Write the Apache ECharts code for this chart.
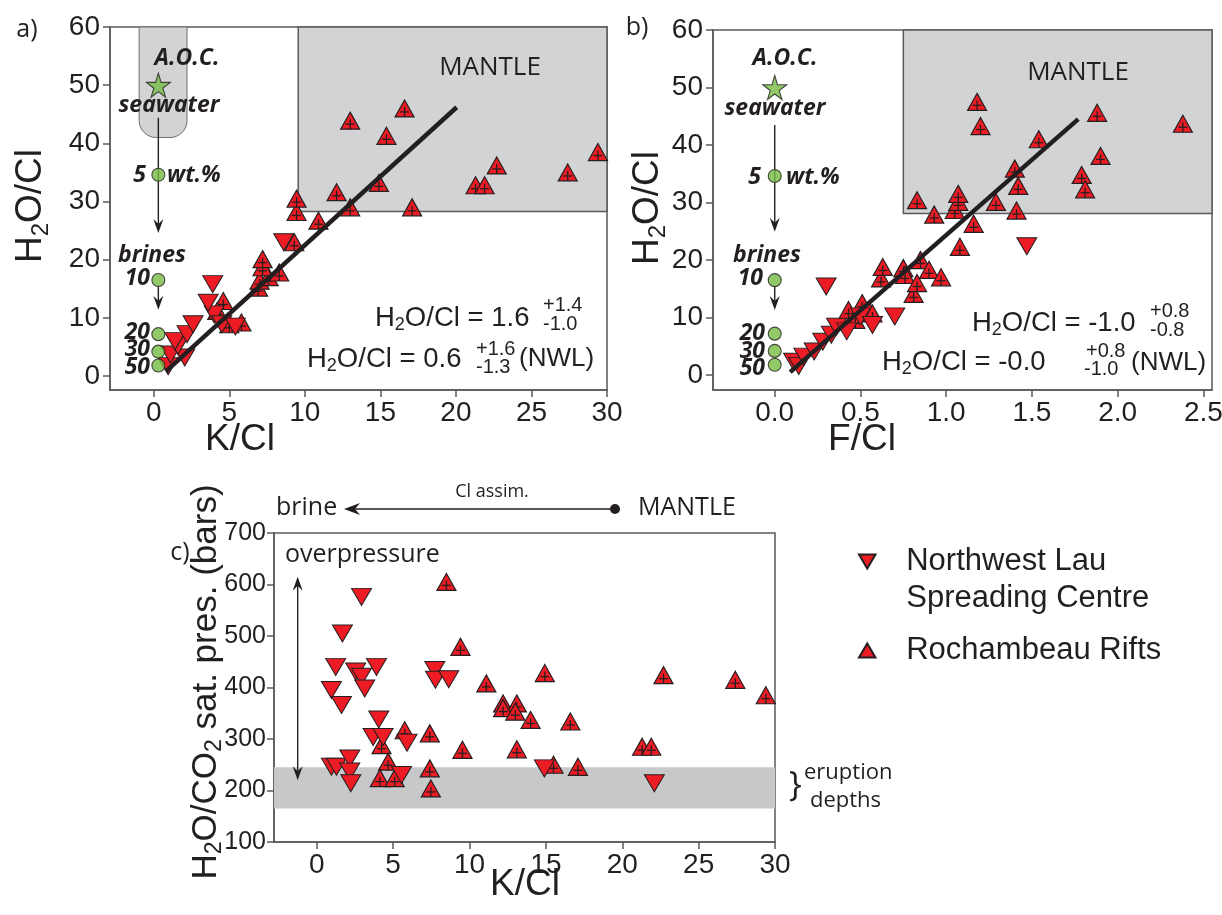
<!DOCTYPE html>
<html><head><meta charset="utf-8">
<script src="https://cdn.jsdelivr.net/npm/echarts@6/dist/echarts.min.js"></script>
<style>html,body{margin:0;padding:0;background:#fff}#c{width:1222px;height:915px}</style>
</head><body><div id="c"></div>
<script>
// ---------- data ----------
const ticksK = [0, 5, 10, 15, 20, 25, 30];
const ticksH = [0, 10, 20, 30, 40, 50, 60];
const ticksF = [0, 0.5, 1, 1.5, 2, 2.5];
const ticksP = [100, 200, 300, 400, 500, 600, 700];

// panel a: K/Cl vs H2O/Cl
const nwlA = [[0.95,1.7],[1.1,3.7],[2.05,3.2],[1.6,5.2],[1.4,6.0],[2.2,7.2],[2.6,8.9],[4.0,10.6],[4.5,8.9],[3.6,12.6],[3.9,15.8],[5.4,8.5],[8.6,23.0]];
const rochA = [[4.6,12.9],[4.2,11.2],[5.0,8.9],[5.8,9.2],[6.9,15.2],[7.0,16.4],[7.6,17.0],[7.2,18.7],[7.2,20.1],[8.3,17.8],[9.3,23.0],[9.45,28.2],[9.45,30.5],[10.9,26.7],[12.1,31.6],[13.0,29.0],[13.0,43.9],[14.9,33.2],[15.4,41.3],[16.6,46.0],[17.1,29.0],[21.3,32.8],[21.9,32.8],[22.7,36.2],[27.4,35.0],[29.4,38.5]];
const fitA = [[0.8,0.8],[20.05,46.2]];
const seawaterA = [[0.3,50]];
const brineA = [[0.3,34.6],[0.3,16.5],[0.3,7.2],[0.3,4.2],[0.3,1.8]];
const arrowsA = [[0.3,44.4,24.6,0],[0.3,15.5,11.4,0]];
const capsuleA = [[-0.97,2.2,41,60]];
const mantleA = [[9.56,28.3],[30,60]];

// panel b: F/Cl vs H2O/Cl
const nwlB = [[0.11,2.3],[0.14,1.6],[0.17,3.2],[0.23,4.1],[0.28,5.8],[0.33,7.0],[0.36,8.4],[0.42,7.6],[0.30,15.4],[0.50,10.2],[0.57,8.7],[0.70,10.2],[1.47,22.4]];
const rochB = [[0.43,11.3],[0.51,12.5],[0.55,11.3],[0.57,10.7],[0.47,9.6],[0.62,16.8],[0.63,18.8],[0.75,18.6],[0.76,17.4],[0.81,14.1],[0.83,16.0],[0.85,20.0],[0.90,18.3],[0.97,17.0],[1.08,22.3],[1.16,26.3],[0.83,30.4],[0.93,27.9],[1.05,28.7],[1.07,30.1],[1.07,31.5],[1.29,30.1],[1.41,28.6],[1.42,32.9],[1.40,35.9],[1.54,41.0],[1.18,47.5],[1.20,43.3],[1.79,34.8],[1.81,32.3],[1.90,38.1],[1.88,45.6],[2.38,43.7]];
const fitB = [[0.09,0.5],[1.77,44.5]];
const seawaterB = [[0,50]];
const brineB = [[0,34.6],[0,16.5],[0,7.2],[0,4.2],[0,1.8]];
const arrowsB = [[0,43.5,24.9,0],[0,15.4,11.3,0]];
const mantleB = [[0.75,28.1],[2.55,60]];

// panel c: K/Cl vs H2O/CO2 saturation pressure (bars)
const nwlC = [[2.93,576],[1.68,505],[1.24,440],[2.55,431],[2.93,421],[3.91,440],[3.14,398],[0.96,395],[1.62,366],[7.73,434],[7.77,415],[8.64,416],[4.06,338],[3.69,304],[4.34,304],[5.91,293],[0.96,246],[1.29,246],[2.16,262],[2.16,237],[2.23,214],[5.55,230],[14.9,243],[22.1,214]];
const rochC = [[8.49,605],[9.41,479],[11.1,408],[14.93,428],[22.7,424],[27.4,415],[29.4,385],[12.2,369],[13.1,369],[12.2,360],[13.0,353],[14.0,337],[16.6,334],[5.76,317],[7.4,311],[4.24,288],[9.54,279],[13.1,280],[21.3,285],[21.9,285],[4.67,256],[7.4,243],[15.5,250],[17.1,246],[4.13,224],[5.1,224],[7.47,204]];
const eruptionBand = [165, 245];
const arrowsC = [[-1.25,220,615,1]];

// ---------- style ----------
const RED = '#ed1c24', INK = '#231f20', AX = '#58595b', GRAY = '#d1d3d4', GREEN = '#76bc43';
const FA = '"Liberation Sans", Arial, sans-serif';
const FM = '"Open Sans", "Noto Sans", sans-serif';
const NWL = 'Northwest Lau Spreading Centre', ROCH = 'Rochambeau Rifts';
const DOWN = 'path://M0,0L20,0L10,17Z', UP = 'path://M10,0L20,17L0,17Z';
const STAR = 'path://M50,0L61,35L98,35L68,57L79,91L50,70L21,91L32,57L2,35L39,35Z';

function xAx(g, min, max, ticks, fmt) {
  return {type:'value', gridIndex:g, min, max, splitLine:{show:false},
    axisLine:{show:true, onZero:false, lineStyle:{color:AX, width:1.5}},
    axisTick:{show:true, length:7, customValues:ticks, lineStyle:{color:AX, width:1.5}},
    axisLabel:{customValues:ticks, fontSize:28, fontFamily:FA, color:INK, margin:9, formatter:fmt}};
}
function yAx(g, min, max, ticks, size, margin) {
  return {type:'value', gridIndex:g, min, max, splitLine:{show:false},
    axisLine:{show:true, onZero:false, lineStyle:{color:AX, width:1.5}},
    axisTick:{show:true, length:7, customValues:ticks, lineStyle:{color:AX, width:1.5}},
    axisLabel:{customValues:ticks, fontSize:size || 28, fontFamily:FA, color:INK, margin:margin || 10}};
}
function rochItem(params, api) {
  const p = api.coord([api.value(0), api.value(1)]);
  const w = 9.5, h = 8.5;
  return {type:'group', children:[
    {type:'polygon', shape:{points:[[p[0],p[1]-h],[p[0]+w,p[1]+h],[p[0]-w,p[1]+h]]}, style:{fill:RED, stroke:INK, lineWidth:1.2}},
    {type:'line', shape:{x1:p[0], y1:p[1]-1.5, x2:p[0], y2:p[1]+h}, style:{stroke:INK, lineWidth:1.3}},
    {type:'line', shape:{x1:p[0]-4.5, y1:p[1]+3.5, x2:p[0]+4.5, y2:p[1]+3.5}, style:{stroke:INK, lineWidth:1.3}}
  ]};
}
function arrowItem(params, api) {
  const x = api.value(0), both = api.value(3);
  const a = api.coord([x, api.value(1)]), b = api.coord([x, api.value(2)]);
  const dir = b[1] > a[1] ? 1 : -1;
  const head = (t, d) => ({type:'polygon', shape:{points:[[t[0],t[1]],[t[0]-5,t[1]-d*14],[t[0],t[1]-d*9],[t[0]+5,t[1]-d*14]]}, style:{fill:INK}});
  const line = {type:'line', shape:{x1:a[0], y1:both ? a[1]+dir*8 : a[1], x2:b[0], y2:b[1]-dir*8}, style:{stroke:INK, lineWidth:1.4}};
  const ch = [line, head(b, dir)];
  if (both) ch.push(head(a, -dir));
  return {type:'group', children:ch};
}
function capsuleItem(params, api) {
  const p0 = api.coord([api.value(0), api.value(3)]), p1 = api.coord([api.value(1), api.value(2)]);
  return {type:'rect', shape:{x:p0[0], y:p0[1], width:p1[0]-p0[0], height:p1[1]-p0[1], r:[0,0,17,17]}, style:{fill:GRAY, stroke:'#6d6e71', lineWidth:1}};
}
function nwlSeries(g, data) {
  return {name:NWL, type:'scatter', xAxisIndex:g, yAxisIndex:g, data, symbol:DOWN, symbolSize:[20,17], z:3,
    itemStyle:{color:RED, borderColor:INK, borderWidth:1, opacity:1}, emphasis:{disabled:true}};
}
function rochSeries(g, data) {
  return {name:ROCH, type:'custom', xAxisIndex:g, yAxisIndex:g, data, renderItem:rochItem, clip:false, z:3,
    itemStyle:{color:RED, borderColor:INK, borderWidth:1}};
}
function areaSeries(g, areaData) {
  return {name:'area'+g, type:'scatter', xAxisIndex:g, yAxisIndex:g, data:[], z:1, silent:true,
    markArea:{silent:true, data:areaData}};
}
const mantleStyle = {color:GRAY, borderColor:AX, borderWidth:1.5};

const richEq = {a:{fontSize:27.5, fontFamily:FA, color:INK, lineHeight:32}, s:{fontSize:18, fontFamily:FA, color:INK, lineHeight:12, verticalAlign:'bottom'}};
const richTitle = {a:{fontSize:37, fontFamily:FA, color:INK, lineHeight:44}, s:{fontSize:24, fontFamily:FA, color:INK, lineHeight:16, verticalAlign:'bottom'}};
const richTitleC = {a:{fontSize:35, fontFamily:FA, color:INK, lineHeight:40}, s:{fontSize:23, fontFamily:FA, color:INK, lineHeight:14, verticalAlign:'bottom'}};
function txt(x, y, text, o) {
  o = o || {};
  return {type:'text', x, y, rotation:o.rot || 0, silent:true, z:100,
    style:{text, fontSize:o.size || 26, fontFamily:o.font || FA, fontWeight:o.weight || 'normal', fontStyle:o.fs || 'normal',
      fill:INK, align:o.align || 'left', verticalAlign:'middle', rich:o.rich}};
}
const BI = {font:FM, weight:'bold', fs:'italic', size:23};
const SS = {size:20};
function bi(extra) { return Object.assign({}, BI, extra); }

const graphics = [
  txt(27, 30, 'a)', {font:FM, size:25, align:'center'}),
  txt(637, 28, 'b)', {font:FM, size:25, align:'center'}),
  txt(180, 553, 'c)', {font:FM, size:25, align:'center'}),
  // axis titles
  txt(31, 206, '{a|H}{s|2}{a|O/Cl}', {rot:Math.PI/2, align:'center', rich:richTitle}),
  txt(240, 440, 'K/Cl', {size:37, align:'center'}),
  txt(648, 208, '{a|H}{s|2}{a|O/Cl}', {rot:Math.PI/2, align:'center', rich:richTitle}),
  txt(862, 440, 'F/Cl', {size:37, align:'center'}),
  txt(206, 682, '{a|H}{s|2}{a|O/CO}{s|2}{a| sat. pres. (bars)}', {rot:Math.PI/2, align:'center', rich:richTitleC}),
  txt(525, 885, 'K/Cl', {size:37, align:'center'}),
  // panel a annotations
  txt(187, 58, 'A.O.C.', bi({align:'center'})),
  txt(169, 105, 'seawater', bi({align:'center'})),
  txt(146, 175, '5', bi({align:'right'})),
  txt(167, 175, 'wt.%', BI),
  txt(152, 255, 'brines', bi({align:'center'})),
  txt(150, 278, '10', bi({align:'right'})),
  txt(150, 332, '20', bi({align:'right'})),
  txt(150, 349, '30', bi({align:'right'})),
  txt(150, 367, '50', bi({align:'right'})),
  txt(490, 68, 'MANTLE', {font:FM, size:26, align:'center'}),
  txt(375, 318, '{a|H}{s|2}{a|O/Cl = 1.6}', {rich:richEq}),
  txt(543, 305, '+1.4', SS),
  txt(543, 324, '-1.0', SS),
  txt(307, 359, '{a|H}{s|2}{a|O/Cl = 0.6}', {rich:richEq}),
  txt(476, 349, '+1.6', SS),
  txt(476, 367, '-1.3', SS),
  txt(519, 359, '(NWL)', {size:26}),
  // panel b annotations
  txt(785, 58, 'A.O.C.', bi({align:'center'})),
  txt(775, 108, 'seawater', bi({align:'center'})),
  txt(761, 177, '5', bi({align:'right'})),
  txt(786, 177, 'wt.%', BI),
  txt(767, 255, 'brines', bi({align:'center'})),
  txt(763, 278, '10', bi({align:'right'})),
  txt(765, 333, '20', bi({align:'right'})),
  txt(765, 351, '30', bi({align:'right'})),
  txt(765, 368, '50', bi({align:'right'})),
  txt(1078, 73, 'MANTLE', {font:FM, size:26, align:'center'}),
  txt(972, 323, '{a|H}{s|2}{a|O/Cl = -1.0}', {rich:richEq}),
  txt(1150, 311, '+0.8', SS),
  txt(1150, 330, '-0.8', SS),
  txt(882, 362, '{a|H}{s|2}{a|O/Cl = -0.0}', {rich:richEq}),
  txt(1086, 351, '+0.8', SS),
  txt(1084, 369, '-1.0', SS),
  txt(1131, 363, '(NWL)', {size:26}),
  // panel c annotations
  txt(285, 555, 'overpressure', {font:FM, size:25}),
  txt(276, 508, 'brine', {font:FM, size:25}),
  txt(492, 492, 'Cl assim.', {font:FM, size:18, align:'center'}),
  txt(638, 508, 'MANTLE', {font:FM, size:25}),
  {type:'line', silent:true, shape:{x1:352, y1:509, x2:614, y2:509}, style:{stroke:INK, lineWidth:1.4}},
  {type:'polygon', silent:true, shape:{points:[[344,509],[360,503],[355,509],[360,515]]}, style:{fill:INK}},
  {type:'circle', silent:true, shape:{cx:615, cy:509, r:5}, style:{fill:INK}},
  txt(789, 786, '}', {font:FM, size:34}),
  txt(804, 773, 'eruption', {font:FM, size:22}),
  txt(810, 801, 'depths', {font:FM, size:22})
];

const option = {
  animation:false,
  backgroundColor:'#fff',
  grid:[
    {left:110, top:27, width:497, height:363, show:true, borderColor:AX, borderWidth:1.5, containLabel:false, outerBoundsMode:'none'},
    {left:713, top:30, width:499, height:360, show:true, borderColor:AX, borderWidth:1.5, containLabel:false, outerBoundsMode:'none'},
    {left:274, top:533, width:501, height:309, show:true, borderColor:AX, borderWidth:1.5, containLabel:false, outerBoundsMode:'none'}
  ],
  xAxis:[xAx(0, -2.9, 30, ticksK), xAx(1, -0.36, 2.55, ticksF, v => v.toFixed(1)), xAx(2, -2.8, 30, ticksK)],
  yAxis:[yAx(0, -2.4, 60, ticksH), yAx(1, -2.6, 60, ticksH), yAx(2, 100, 700, ticksP, 25, 8)],
  legend:{orient:'vertical', left:853, top:501, itemWidth:68, itemHeight:14, itemGap:15, selectedMode:false,
    textStyle:{fontSize:31, fontFamily:FA, color:INK, lineHeight:37},
    formatter: n => n === NWL ? '\u00a0\nNorthwest Lau\nSpreading Centre' : n,
    data:[{name:NWL, icon:DOWN}, {name:ROCH, icon:UP}]},
  graphic:graphics,
  series:[
    // panel a
    areaSeries(0, [[{coord:mantleA[0], itemStyle:mantleStyle}, {coord:mantleA[1]}]]),
    {name:'capsule', type:'custom', xAxisIndex:0, yAxisIndex:0, data:capsuleA, renderItem:capsuleItem, encode:{x:[0,1], y:[2,3]}, clip:false, z:1, silent:true},
    nwlSeries(0, nwlA),
    rochSeries(0, rochA),
    {name:'fitA', type:'line', xAxisIndex:0, yAxisIndex:0, data:fitA, showSymbol:false, symbol:'none', z:4, silent:true, lineStyle:{color:INK, width:4.5}},
    {name:'arrowsA', type:'custom', xAxisIndex:0, yAxisIndex:0, data:arrowsA, renderItem:arrowItem, encode:{x:0, y:[1,2]}, clip:false, z:5, silent:true},
    {name:'brinesA', type:'scatter', xAxisIndex:0, yAxisIndex:0, data:brineA, symbol:'circle', symbolSize:13, z:6, silent:true, itemStyle:{color:GREEN, borderColor:INK, borderWidth:1.1}},
    {name:'seawaterA', type:'scatter', xAxisIndex:0, yAxisIndex:0, data:seawaterA, symbol:STAR, symbolSize:24, z:6, silent:true, itemStyle:{color:GREEN, borderColor:INK, borderWidth:1.1}},
    // panel b
    areaSeries(1, [[{coord:mantleB[0], itemStyle:mantleStyle}, {coord:mantleB[1]}]]),
    nwlSeries(1, nwlB),
    rochSeries(1, rochB),
    {name:'fitB', type:'line', xAxisIndex:1, yAxisIndex:1, data:fitB, showSymbol:false, symbol:'none', z:4, silent:true, lineStyle:{color:INK, width:4.5}},
    {name:'arrowsB', type:'custom', xAxisIndex:1, yAxisIndex:1, data:arrowsB, renderItem:arrowItem, encode:{x:0, y:[1,2]}, clip:false, z:5, silent:true},
    {name:'brinesB', type:'scatter', xAxisIndex:1, yAxisIndex:1, data:brineB, symbol:'circle', symbolSize:13, z:6, silent:true, itemStyle:{color:GREEN, borderColor:INK, borderWidth:1.1}},
    {name:'seawaterB', type:'scatter', xAxisIndex:1, yAxisIndex:1, data:seawaterB, symbol:STAR, symbolSize:24, z:6, silent:true, itemStyle:{color:GREEN, borderColor:INK, borderWidth:1.1}},
    // panel c
    areaSeries(2, [[{yAxis:eruptionBand[0], itemStyle:{color:'#c7c8ca', borderWidth:0}}, {yAxis:eruptionBand[1]}]]),
    nwlSeries(2, nwlC),
    rochSeries(2, rochC),
    {name:'arrowsC', type:'custom', xAxisIndex:2, yAxisIndex:2, data:arrowsC, renderItem:arrowItem, encode:{x:0, y:[1,2]}, clip:false, z:5, silent:true}
  ]
};
const chart = echarts.init(document.getElementById('c'));
chart.setOption(option);
</script>
</body></html>
